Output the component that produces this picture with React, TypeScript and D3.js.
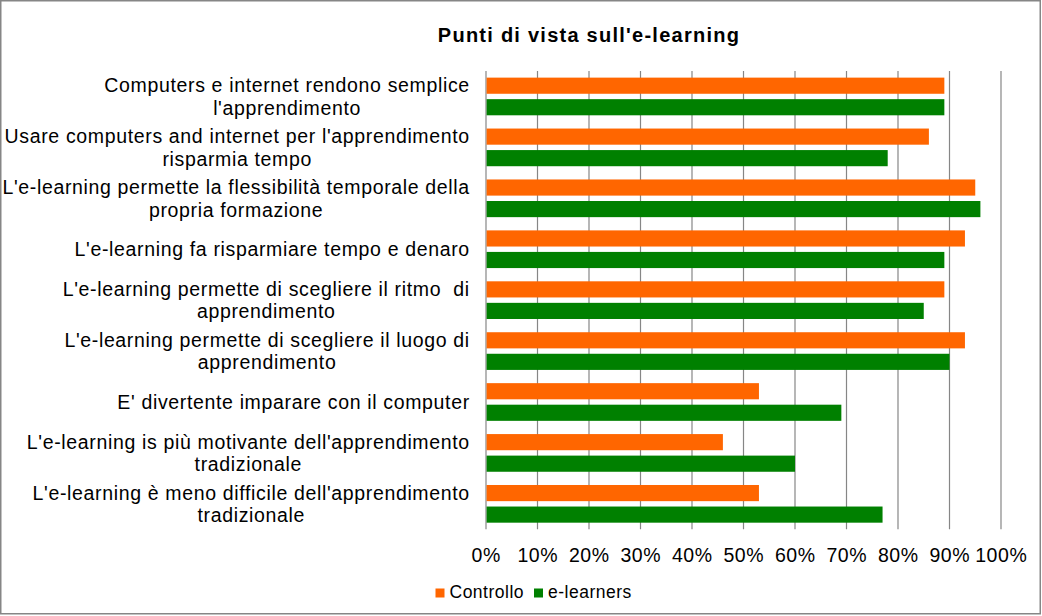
import React, { useMemo } from 'react';
import * as d3 from 'd3';

const categories: string[][] = [
  ["Computers e internet rendono semplice", "l'apprendimento"],
  ["Usare computers and internet per l'apprendimento", "risparmia tempo"],
  ["L'e-learning permette la flessibilità temporale della", "propria formazione"],
  ["L'e-learning fa risparmiare tempo e denaro"],
  ["L'e-learning permette di scegliere il ritmo  di", "apprendimento"],
  ["L'e-learning permette di scegliere il luogo di", "apprendimento"],
  ["E' divertente imparare con il computer"],
  ["L'e-learning is più motivante dell'apprendimento", "tradizionale"],
  ["L'e-learning è meno difficile dell'apprendimento", "tradizionale"],
];
const controllo = [89, 86, 95, 93, 89, 93, 53, 46, 53];
const eLearners = [89, 78, 96, 89, 85, 90, 69, 60, 77];
const seriesNames = ["Controllo", "e-learners"];
const seriesColors = ["#FF6600", "#008000"];
const tickValues = [0, 10, 20, 30, 40, 50, 60, 70, 80, 90, 100];
const title = "Punti di vista sull'e-learning";

const W = 1042;
const H = 616;
const FONT = "'Liberation Sans', Arial, sans-serif";
const LABEL_SIZE = 19.5;
const LABEL_LS = 0.65;

function measure(text: string, font: string, ls: number): number {
  const c = document.createElement('canvas');
  const ctx = c.getContext('2d');
  if (!ctx) return text.length * 9;
  ctx.font = font;
  return ctx.measureText(text).width + ls * text.length;
}

export default function App() {
  const plot = { left: 486, right: 1001, top: 71, bottom: 529.3 };
  const x = d3.scaleLinear().domain([0, 100]).range([plot.left, plot.right]);
  const y0 = d3
    .scaleBand<number>()
    .domain(categories.map((_, i) => i))
    .range([plot.top, plot.bottom])
    .paddingInner(0.26)
    .paddingOuter(0.13);
  const y1 = d3
    .scaleBand<number>()
    .domain([0, 1])
    .range([0, y0.bandwidth()])
    .paddingInner(0.25);
  const series = [controllo, eLearners];

  const labelWidths = useMemo(
    () =>
      categories.map((lines) =>
        lines.map((l) => measure(l, `${LABEL_SIZE}px 'Liberation Sans'`, LABEL_LS))
      ),
    []
  );

  const labelRight = 469.5;
  const lineH = 22.4;

  return (
    <svg
      width={W}
      height={H}
      style={{ position: 'absolute', left: 0, top: 0, background: '#fff' }}
      fontFamily={FONT}
    >
      <rect x={0} y={0} width={W} height={H} fill="#fff" />
      <rect x={0.75} y={0.75} width={1039.5} height={613} fill="none" stroke="#868686" strokeWidth={1.5} />

      <text
        x={589}
        y={41.5}
        textAnchor="middle"
        fontSize={20}
        fontWeight="bold"
        letterSpacing={1.25}
        fill="#000"
      >
        {title}
      </text>

      {tickValues.map((t) => (
        <line
          key={'g' + t}
          x1={x(t)}
          x2={x(t)}
          y1={plot.top}
          y2={plot.bottom}
          stroke="#868686"
          strokeWidth={1.2}
        />
      ))}

      {categories.map((_, i) =>
        series.map((vals, s) => (
          <rect
            key={`b${i}-${s}`}
            x={x(0) + 0.6}
            y={(y0(i) as number) + (y1(s) as number)}
            width={x(vals[i]) - x(0) - 0.6}
            height={y1.bandwidth()}
            fill={seriesColors[s]}
          />
        ))
      )}

      {categories.map((lines, i) => {
        const cy = (y0(i) as number) + y0.bandwidth() / 2;
        const blockW = Math.max(...labelWidths[i]);
        const cx = labelRight - blockW / 2;
        const n = lines.length;
        return lines.map((l, k) => (
          <text
            key={`l${i}-${k}`}
            x={cx + LABEL_LS / 2}
            y={cy + (k - (n - 1) / 2) * lineH + 7}
            textAnchor="middle"
            fontSize={LABEL_SIZE}
            letterSpacing={LABEL_LS}
            style={{ whiteSpace: 'pre' }}
            fill="#000"
          >
            {l}
          </text>
        ));
      })}

      {tickValues.map((t) => (
        <text
          key={'t' + t}
          x={x(t) + 0.3}
          y={561.5}
          textAnchor="middle"
          fontSize={19.5}
          letterSpacing={0.6}
          fill="#000"
        >
          {t + '%'}
        </text>
      ))}

      {seriesNames.map((name, s) => {
        const lx = s === 0 ? 435.5 : 534;
        return (
          <g key={'lg' + s}>
            <rect x={lx} y={588.5} width={9} height={9} fill={seriesColors[s]} />
            <text x={lx + 14} y={598.3} fontSize={17.5} letterSpacing={0.5} fill="#000">
              {name}
            </text>
          </g>
        );
      })}
    </svg>
  );
}
